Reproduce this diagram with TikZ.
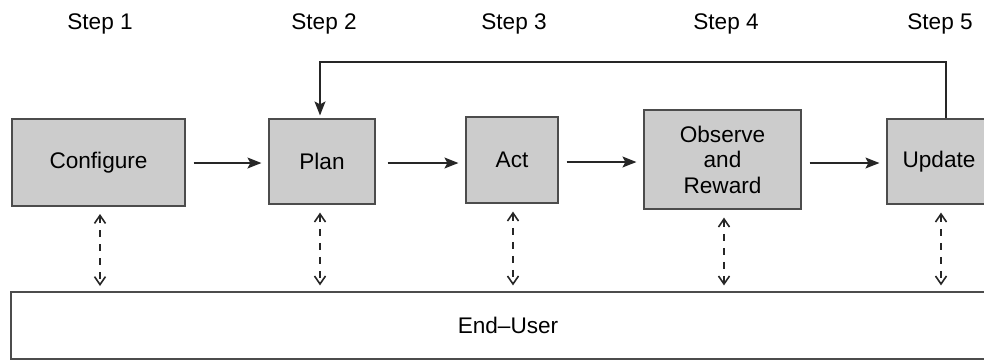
\documentclass[tikz,border=0pt]{standalone}
\usepackage{fontspec}
\setmainfont{Liberation Sans}
\usetikzlibrary{arrows.meta}
\begin{document}
\begin{tikzpicture}[x=1pt,y=-1pt,
  every node/.style={font=\fontsize{22.6}{25.5}\selectfont, inner sep=0pt},
  box/.style={draw=black!70, line width=1.2pt, fill=black!20, align=center},
  ubox/.style={draw=black!70, line width=1.2pt, fill=white},
  lbl/.style={anchor=base},
  arr/.style={-{Stealth[length=14pt,width=11pt,inset=3pt]}, line width=1.1pt, draw=black!85, shorten <=8pt, shorten >=7pt},
  fb/.style={-{Stealth[length=14pt,width=11pt,inset=3pt]}, line width=1.1pt, draw=black!85},
  dasharr/.style={{Straight Barb[length=8pt,width=11pt,line width=1.6pt]}-{Straight Barb[length=8pt,width=11pt,line width=1.6pt]}, line width=1.3pt, draw=black!85, dash pattern=on 7pt off 7pt, shorten <=8pt, shorten >=6pt}]
\useasboundingbox (0,0) rectangle (984,360);
\clip (0,0) rectangle (984,360);

\node[lbl] (s1) at (100,29) {Step 1};
\node[lbl] (s2) at (324,29) {Step 2};
\node[lbl] (s3) at (514,29) {Step 3};
\node[lbl] (s4) at (726,29) {Step 4};
\node[lbl] (s5) at (940,29) {Step 5};

\node[box, minimum width=173pt, minimum height=87pt] (cfg) at (98.5,162.5) {Configure};
\node[box, minimum width=106pt, minimum height=85pt] (plan) at (322,161.5) {Plan};
\node[box, minimum width=92pt, minimum height=86pt] (act) at (512,160) {Act};
\node[box, minimum width=157pt, minimum height=99pt] (obs) at (722.5,159.5) {Observe\\and\\Reward};
\node[box, minimum width=104pt, minimum height=85pt] (upd) at (939,161.5) {Update};
\node[ubox, minimum width=994pt, minimum height=67pt] (user) at (508,325.5) {End--User};

\draw[arr] (cfg.east |- 0,163) -- (plan.west |- 0,163);
\draw[arr, shorten <=12pt] (plan.east |- 0,163) -- (act.west |- 0,163);
\draw[arr] (act.east |- 0,162) -- (obs.west |- 0,162);
\draw[arr] (obs.east |- 0,163) -- (upd.west |- 0,163);

\coordinate (fbtop) at (946,62);
\draw[fb, shorten >=3pt] ([xshift=7pt]upd.north) -- (fbtop) -| ([xshift=-2pt]plan.north);

\draw[dasharr] (100,206) -- (100,292);
\draw[dasharr] ([xshift=-2pt]plan.south) -- ([xshift=-2pt]plan.south |- user.north);
\draw[dasharr] ([xshift=1pt]act.south) -- ([xshift=1pt]act.south |- user.north);
\draw[dasharr] ([xshift=1.5pt]obs.south) -- ([xshift=1.5pt]obs.south |- user.north);
\draw[dasharr] ([xshift=2pt]upd.south) -- ([xshift=2pt]upd.south |- user.north);
\end{tikzpicture}
\end{document}
